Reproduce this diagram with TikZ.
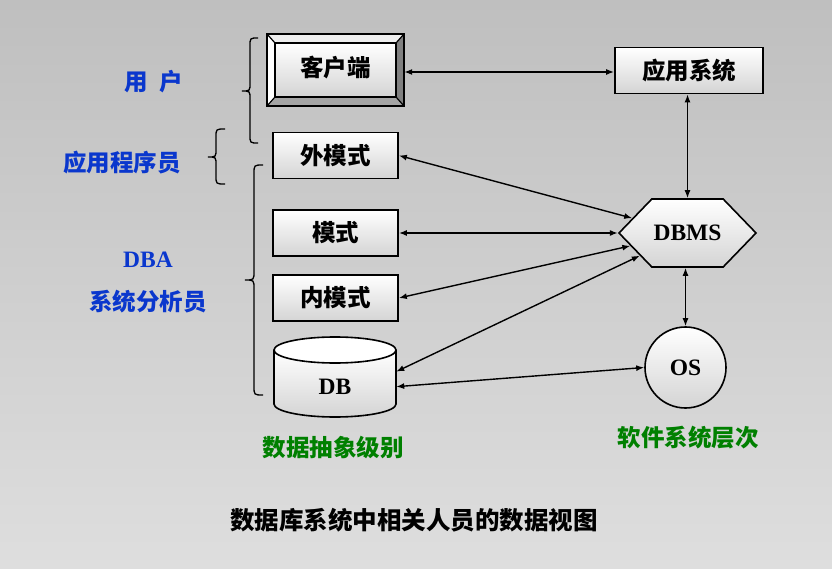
\documentclass[tikz,border=0pt]{standalone}
\usepackage{fontspec}
\setmainfont{Liberation Serif}
\newfontfamily\cjk{Noto Sans CJK SC}
\usetikzlibrary{shapes.symbols,shapes.geometric,arrows.meta}
\definecolor{bgtop}{RGB}{191,191,191}
\definecolor{bgbot}{RGB}{222,222,222}
\definecolor{boxbot}{RGB}{212,212,212}
\definecolor{lblblue}{RGB}{10,55,205}
\definecolor{lblgreen}{RGB}{0,128,0}
\definecolor{bevright}{RGB}{128,128,128}
\definecolor{bevbot}{RGB}{165,165,165}
\definecolor{bevtop}{RGB}{238,238,238}
\tikzset{
  cjkfont/.style={font=\cjk\bfseries\fontsize{23.5}{27}\selectfont},
  latfont/.style={font=\bfseries\fontsize{23.5}{27}\selectfont},
  box/.style={draw, line width=1.7pt, top color=white, bottom color=boxbot, cjkfont, inner sep=0pt},
  conn/.style={line width=1.4pt, {Latex[length=8pt,width=6pt]}-{Latex[length=8pt,width=6pt]}},
  bracepath/.style={line width=1.3pt},
  bluelab/.style={text=lblblue},
  greenlab/.style={text=lblgreen, cjkfont},
}
\begin{document}
\begin{tikzpicture}[x=1pt,y=-1pt]
\useasboundingbox (0,0) rectangle (832,569);
\shade[top color=bgtop, bottom color=bgbot] (0,0) rectangle (832,569);

% client bevelled box
\fill[white] (267,34) -- (275,43) -- (275,97) -- (267,106) -- cycle;
\fill[bevtop] (267,34) -- (404,34) -- (396,43) -- (275,43) -- cycle;
\fill[bevright] (404,34) -- (404,106) -- (396,97) -- (396,43) -- cycle;
\fill[bevbot] (267,106) -- (404,106) -- (396,97) -- (275,97) -- cycle;
\shade[top color=white, bottom color=boxbot] (275,43) rectangle (396,97);
\draw[line width=1.2pt] (267,34) -- (275,43) (404,34) -- (396,43) (404,106) -- (396,97) (267,106) -- (275,97);
\draw[line width=1.5pt] (275,43) rectangle (396,97);
\draw[line width=1.8pt] (267,34) rectangle (404,106);
\node[cjkfont, minimum width=137pt, minimum height=72pt, inner sep=0pt] (client) at (335.5,68) {客户端};

% application system
\node[box, minimum width=148pt, minimum height=46pt] (app) at (689,70.5) {应用系统};

% schema boxes
\node[box, minimum width=125pt, minimum height=46pt] (ext) at (335.5,155.5) {外模式};
\node[box, minimum width=125pt, minimum height=46pt] (sch) at (335.5,233) {模式};
\node[box, minimum width=125pt, minimum height=46pt] (int) at (335.5,298) {内模式};

% DB cylinder
\shade[top color=white, bottom color=boxbot] (274,350) -- (274,404) arc[start angle=180, end angle=360, x radius=61, y radius=-13] -- (396,350) -- cycle;
\fill[white] (335,350) ellipse[x radius=61, y radius=13];
\draw[line width=1.6pt] (274,350) -- (274,404) arc[start angle=180, end angle=360, x radius=61, y radius=-13] -- (396,350);
\draw[line width=1.6pt] (335,350) ellipse[x radius=61, y radius=13];
\node[latfont, minimum width=122pt, minimum height=80pt, inner sep=0pt] (db) at (335,377) {};
\node[latfont] (dbtext) at (335,387) {DB};

% DBMS hexagon
\node[draw, line width=1.6pt, signal, signal to=west and east, signal pointer angle=92,
      minimum width=137pt, minimum height=68pt, top color=white, bottom color=boxbot,
      latfont, inner sep=0pt] (dbms) at (687.5,233) {DBMS};

% OS circle
\node[draw, circle, line width=1.6pt, minimum size=81pt, top color=white, bottom color=boxbot,
      latfont, inner sep=0pt] (os) at (685.5,367.5) {OS};

% connectors
\draw[conn] (client.east |- 0,72) -- (app.west |- 0,72);
\draw[conn] (app.south -| dbms.north) -- (dbms.north);
\draw[conn] (ext.east) -- (dbms);
\draw[conn] (sch.east) -- (dbms.west);
\draw[conn] (int.east) -- (dbms);
\draw[conn] (db.5) -- (dbms);
\draw[conn] (db.-9) -- (os.west);
\draw[conn] (dbms.south -| os.north) -- (os.north);

% braces
\draw[bracepath] (258,38) .. controls (250,38) .. (250,46) -- (250,83) .. controls (250,91) .. (242,91)
  .. controls (250,91) .. (250,99) -- (250,135) .. controls (250,143) .. (258,143);
\draw[bracepath] (225,129) .. controls (216,129) .. (216,137) -- (216,149) .. controls (216,157) .. (208,157)
  .. controls (216,157) .. (216,165) -- (216,176) .. controls (216,184) .. (225,184);
\draw[bracepath] (263,165) .. controls (254,165) .. (254,174) -- (254,271) .. controls (254,280) .. (245,280)
  .. controls (254,280) .. (254,289) -- (254,386) .. controls (254,395) .. (263,395);

% labels
\node[bluelab, cjkfont] (user) at (154,82) {用\hspace{0.5em}户};
\node[bluelab, cjkfont] (prog) at (122,163) {应用程序员};
\node[bluelab, latfont] (dba) at (148,260) {DBA};
\node[bluelab, cjkfont] (analyst) at (148,302) {系统分析员};
\node[greenlab] (abs) at (333,448) {数据抽象级别};
\node[greenlab] (soft) at (688,438) {软件系统层次};
\node[cjkfont, font=\cjk\bfseries\fontsize{24.5}{29}\selectfont] (title) at (414,520) {数据库系统中相关人员的数据视图};
\end{tikzpicture}
\end{document}
